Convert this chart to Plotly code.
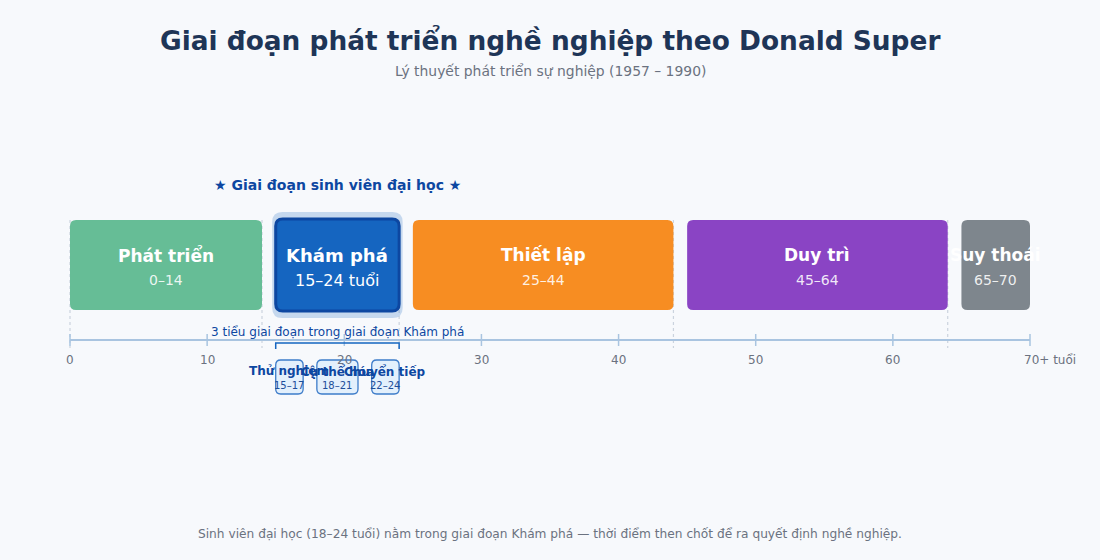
import plotly.graph_objects as go

# ---------------- data ----------------
stage_names = ["Phát triển", "Khám phá", "Thiết lập", "Duy trì", "Suy thoái"]
stage_start = [0, 15, 25, 45, 65]
stage_end = [14, 24, 44, 64, 70]
stage_ranges = ["0–14", "15–24 tuổi", "25–44", "45–64", "65–70"]
stage_colors = ["#66BD96", "#1565C0", "#F78D22", "#8A44C4", "#7E868D"]
highlight_index = 1

boundaries = [0, 14, 24, 44, 64]

sub_names = ["Thử nghiệm", "Cụ thể hóa", "Chuyển tiếp"]
sub_start = [15, 18, 22]
sub_end = [17, 21, 24]
sub_ranges = ["15–17", "18–21", "22–24"]

tick_vals = [0, 10, 20, 30, 40, 50, 60, 70]
tick_text = ["0", "10", "20", "30", "40", "50", "60", "70+ tuổi"]

title = "Giai đoạn phát triển nghề nghiệp theo Donald Super"
subtitle = "Lý thuyết phát triển sự nghiệp (1957 – 1990)"
student_label = "★ Giai đoạn sinh viên đại học ★"
bracket_label = "3 tiểu giai đoạn trong giai đoạn Khám phá"
footer = "Sinh viên đại học (18–24 tuổi) nằm trong giai đoạn Khám phá — thời điểm then chốt để ra quyết định nghề nghiệp."

# ---------------- layout geometry ----------------
W, H = 1100, 560
X0_PX, X1_PX = 70, 1030
AGE_MIN, AGE_MAX = 0, 70
PPU = (X1_PX - X0_PX) / (AGE_MAX - AGE_MIN)
x_range = [AGE_MIN - X0_PX / PPU, AGE_MAX + (W - X1_PX) / PPU]

FONT = "DejaVu Sans"
BG = "#F7F9FC"

BOX_TOP, BOX_BOT = 220, 310
AXIS_Y = 340


def rrect(x0, x1, y0, y1, r):
    """rounded rectangle path; x in age units, y in layout px units."""
    rx = r / PPU
    ry = r
    return (f"M{x0+rx},{y0} L{x1-rx},{y0} Q{x1},{y0} {x1},{y0+ry} "
            f"L{x1},{y1-ry} Q{x1},{y1} {x1-rx},{y1} L{x0+rx},{y1} "
            f"Q{x0},{y1} {x0},{y1-ry} L{x0},{y0+ry} Q{x0},{y0} {x0+rx},{y0} Z")


shapes = []
annotations = []

# dotted boundary guides
for b in boundaries:
    shapes.append(dict(type="line", xref="x", yref="y", x0=b, x1=b, y0=BOX_TOP, y1=348,
                       line=dict(color="#CBD3DE", width=1.2, dash="dot"), layer="below"))

# stage boxes
for i, (n, s, e, rg, c) in enumerate(zip(stage_names, stage_start, stage_end, stage_ranges, stage_colors)):
    if i == highlight_index:
        shapes.append(dict(type="path", xref="x", yref="y",
                           path=rrect(s - 3.5 / PPU, e + 3.5 / PPU, BOX_TOP - 8, BOX_BOT + 8, 10),
                           fillcolor="rgba(21,101,192,0.22)", line=dict(width=0)))
        shapes.append(dict(type="path", xref="x", yref="y",
                           path=rrect(s, e, BOX_TOP - 1, BOX_BOT + 1, 7),
                           fillcolor=c, line=dict(color="#0D47A1", width=3)))
        annotations.append(dict(x=(s + e) / 2, y=255, xref="x", yref="y", text=f"<b>{n}</b>",
                                showarrow=False, font=dict(family=FONT, size=18, color="white")))
        annotations.append(dict(x=(s + e) / 2, y=280, xref="x", yref="y", text=rg,
                                showarrow=False, font=dict(family=FONT, size=16, color="white")))
    else:
        shapes.append(dict(type="path", xref="x", yref="y",
                           path=rrect(s, e, BOX_TOP, BOX_BOT, 6),
                           fillcolor=c, line=dict(width=0)))
        annotations.append(dict(x=(s + e) / 2, y=255, xref="x", yref="y", text=f"<b>{n}</b>",
                                showarrow=False, font=dict(family=FONT, size=17, color="white")))
        annotations.append(dict(x=(s + e) / 2, y=280, xref="x", yref="y", text=rg,
                                showarrow=False, font=dict(family=FONT, size=14, color="rgba(255,255,255,0.88)")))

# student label above highlight
hs, he = stage_start[highlight_index], stage_end[highlight_index]
annotations.append(dict(x=(hs + he) / 2, y=185, xref="x", yref="y", text=f"<b>{student_label}</b>",
                        showarrow=False, font=dict(family=FONT, size=14, color="#0D47A1")))

# axis line + ticks
shapes.append(dict(type="line", xref="x", yref="y", x0=AGE_MIN, x1=AGE_MAX, y0=AXIS_Y, y1=AXIS_Y,
                   line=dict(color="#A9C4E0", width=2)))
for k, (tv, tt) in enumerate(zip(tick_vals, tick_text)):
    shapes.append(dict(type="line", xref="x", yref="y", x0=tv, x1=tv, y0=AXIS_Y - 6, y1=AXIS_Y + 6,
                       line=dict(color="#A9C4E0", width=1.5)))
    last = k == len(tick_vals) - 1
    annotations.append(dict(x=tv, y=360, xref="x", yref="y", text=tt, showarrow=False,
                            xanchor="left" if last else "center", xshift=-8 if last else 0,
                            font=dict(family=FONT, size=12, color="#6B7280")))

# bracket for substages
bs, be = min(sub_start), max(sub_end)
shapes.append(dict(type="path", xref="x", yref="y",
                   path=f"M{bs},349 L{bs},343 L{be},343 L{be},349",
                   line=dict(color="#1565C0", width=1.5)))
annotations.append(dict(x=(bs + be) / 2, y=332, xref="x", yref="y", text=bracket_label,
                        showarrow=False, font=dict(family=FONT, size=12, color="#0D47A1")))

# substage boxes
for n, s, e, rg in zip(sub_names, sub_start, sub_end, sub_ranges):
    shapes.append(dict(type="path", xref="x", yref="y",
                       path=rrect(s, e, 360, 394, 5),
                       fillcolor="#E3F0FC", line=dict(color="#3D7CC9", width=1.3)))
    annotations.append(dict(x=(s + e) / 2, y=371, xref="x", yref="y", text=f"<b>{n}</b>",
                            showarrow=False, font=dict(family=FONT, size=12, color="#0D47A1")))
    annotations.append(dict(x=(s + e) / 2, y=385, xref="x", yref="y", text=rg,
                            showarrow=False, font=dict(family=FONT, size=10, color="#1D4E9A")))

# titles and footer
annotations.append(dict(x=0.5, y=40, xref="paper", yref="y", text=f"<b>{title}</b>", showarrow=False,
                        font=dict(family=FONT, size=26.4, color="#1E3557")))
annotations.append(dict(x=0.5, y=71, xref="paper", yref="y", text=subtitle, showarrow=False,
                        font=dict(family=FONT, size=13.9, color="#6B7280")))
annotations.append(dict(x=0.5, y=534, xref="paper", yref="y", text=footer, showarrow=False,
                        font=dict(family=FONT, size=12.2, color="#6B7280")))

fig = go.Figure()
fig.add_trace(go.Scatter(x=[AGE_MIN, AGE_MAX], y=[0, 0], mode="markers",
                         marker=dict(opacity=0), hoverinfo="skip", showlegend=False))
fig.update_layout(
    width=W, height=H,
    margin=dict(l=0, r=0, t=0, b=0),
    paper_bgcolor=BG, plot_bgcolor=BG,
    xaxis=dict(range=x_range, visible=False, fixedrange=True),
    yaxis=dict(range=[H, 0], visible=False, fixedrange=True),
    shapes=shapes, annotations=annotations,
    showlegend=False,
)
fig.write_html("out.html", config={"displayModeBar": False},
               post_script="document.body.style.margin='0';document.body.style.background='%s';" % BG)
